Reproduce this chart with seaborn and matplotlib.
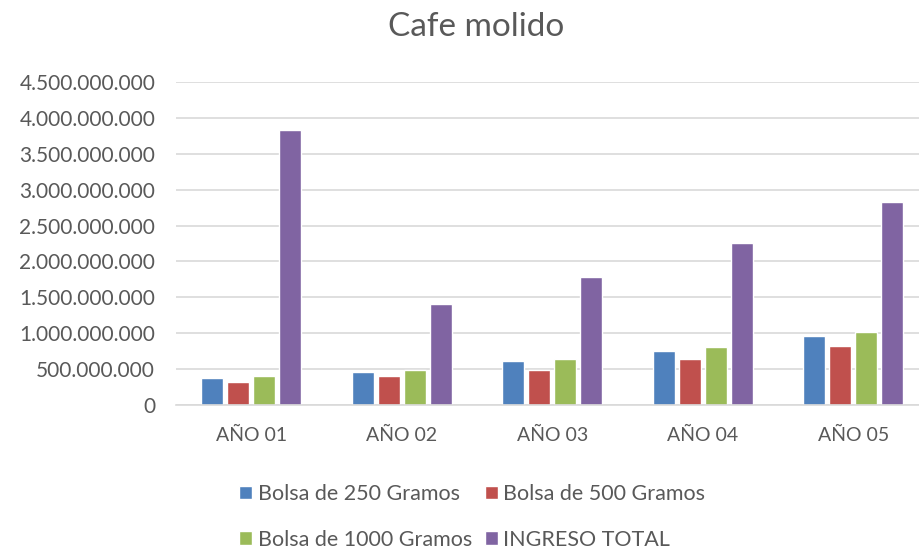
import matplotlib
matplotlib.use("Agg")
import matplotlib.pyplot as plt
import matplotlib.ticker as mticker
import seaborn as sns
import pandas as pd

years = ["AÑO 01", "AÑO 02", "AÑO 03", "AÑO 04", "AÑO 05"]
bolsa_250 = [371e6, 463e6, 608e6, 753e6, 956e6]
bolsa_500 = [315e6, 403e6, 493e6, 642e6, 817e6]
bolsa_1000 = [403e6, 486e6, 642e6, 813e6, 1011e6]
ingreso_total = [3830e6, 1410e6, 1790e6, 2250e6, 2830e6]
series_names = ["Bolsa de 250 Gramos", "Bolsa de 500 Gramos",
                "Bolsa de 1000 Gramos", "INGRESO TOTAL"]
colors = ["#4F81BD", "#C0504D", "#9BBB59", "#8064A2"]

rows = []
for name, vals in zip(series_names, [bolsa_250, bolsa_500, bolsa_1000, ingreso_total]):
    for y, v in zip(years, vals):
        rows.append({"Año": y, "Serie": name, "Valor": v})
df = pd.DataFrame(rows)

sns.set_theme(style="white")
plt.rcParams["font.family"] = ["Lato", "DejaVu Sans"]
text_color = "#595959"

fig = plt.figure(figsize=(9.19, 5.5), dpi=100)
# plot area runs slightly past the right edge of the canvas
ax = fig.add_axes([176 / 919, 0.2636, 752.5 / 919, 0.5874])

sns.barplot(data=df, x="Año", y="Valor", hue="Serie", palette=colors,
            width=0.69, gap=0.15, ax=ax, legend=True, saturation=1)

ax.set_ylim(0, 4.5e9)
ax.set_yticks([i * 5e8 for i in range(10)])
ax.yaxis.set_major_formatter(mticker.FuncFormatter(lambda v, p: f"{int(v):,}".replace(",", ".")))
ax.grid(axis="y", color="#D9D9D9", linewidth=1.2)
ax.set_axisbelow(True)
for s in ["top", "right", "left"]:
    ax.spines[s].set_visible(False)
ax.spines["bottom"].set_color("#D9D9D9")
ax.spines["bottom"].set_linewidth(1.2)
ax.tick_params(axis="both", length=0, colors=text_color)
ax.tick_params(axis="y", pad=15, labelsize=15)
ax.tick_params(axis="x", pad=16, labelsize=14)
ax.set_xlabel("")
ax.set_ylabel("")

fig.text(0.518, 0.95, "Cafe molido", ha="center", va="center",
         fontsize=24, color=text_color)

# Legend laid out row by row: 250 | 500 on top, 1000 | total below
handles, labels = ax.get_legend_handles_labels()
ax.get_legend().remove()
order = [0, 2, 1, 3]
leg = fig.legend([handles[i] for i in order], [labels[i] for i in order],
                 ncol=2, loc="center", bbox_to_anchor=(0.514, 0.06),
                 frameon=False, fontsize=15.5, handlelength=0.6,
                 handleheight=0.6, handletextpad=0.25, columnspacing=0.6,
                 labelspacing=1.2)
for t in leg.get_texts():
    t.set_color(text_color)

fig.savefig("out.png", dpi=100, facecolor="white")
